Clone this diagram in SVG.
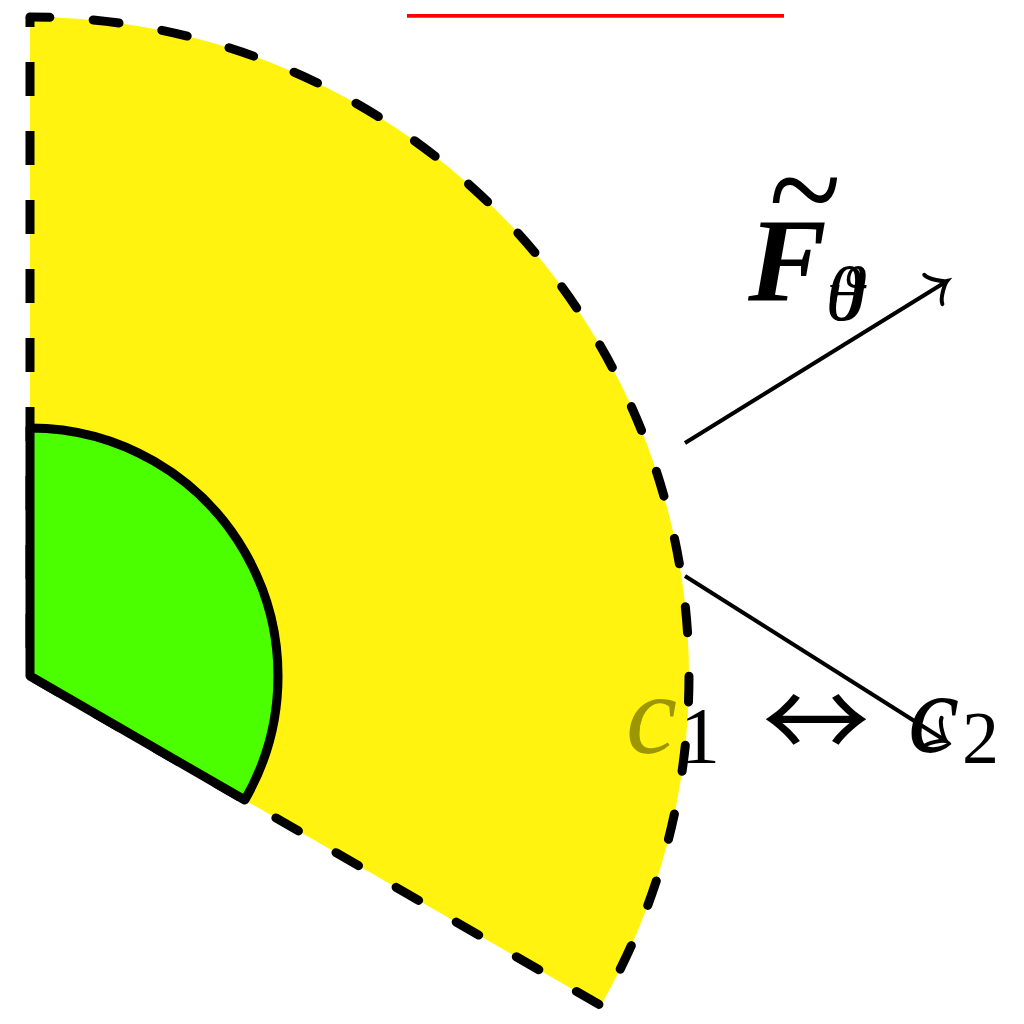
<svg xmlns="http://www.w3.org/2000/svg" width="1024" height="1024" viewBox="0 0 1024 1024">
<style>
.dash-v{fill:none;stroke:#000;stroke-width:9;stroke-dasharray:34 35;stroke-dashoffset:41;stroke-linecap:butt}
.dash-a{fill:none;stroke:#000;stroke-width:9;stroke-dasharray:26 43.4;stroke-dashoffset:6;stroke-linecap:round;stroke-linejoin:round}
.conn{fill:none;stroke:#000;stroke-width:4}
.lbl{font-family:"Liberation Serif","Times New Roman",serif;fill:#000}
.it{font-style:italic}
</style>
<defs>
<marker id="to" markerUnits="userSpaceOnUse" markerWidth="40" markerHeight="40" refX="0" refY="0" orient="auto" overflow="visible" viewBox="-20 -20 40 40">
<path d="M-12.9,17.2 C-11.8,10.75 0,1.1 3.2,0 C0,-1.1 -11.8,-10.75 -12.9,-17.2" fill="none" stroke="#000" stroke-width="4" stroke-linecap="round"/>
</marker>
</defs>
<rect width="1024" height="1024" fill="#fff"/>
<line id="red-line" x1="407" y1="15.8" x2="784" y2="15.8" stroke="#ff0000" stroke-width="3.8"/>
<g id="outer-sector">
<path d="M30,676 L30,17 A659,659 0 0 1 600.7,1005.5 Z" fill="#fff30f"/>
<path class="dash-v" d="M30,676 L30,17"/>
<path class="dash-a" d="M30,17 A659,659 0 0 1 600.7,1005.5 L30,676"/>
</g>
<g id="inner-sector">
<path d="M30,676 L30,428 A248,248 0 0 1 244.8,800 Z" fill="#4cff00" stroke="#000" stroke-width="9" stroke-linejoin="round"/>
</g>
<g id="connectors">
<line class="conn" x1="685" y1="443" x2="944.3" y2="282.7" marker-end="url(#to)"/>
<line class="conn" x1="685" y1="576" x2="943.3" y2="739.3" marker-end="url(#to)"/>
</g>
<g id="label-F">
<text class="lbl" x="769" y="240" font-size="150" textLength="72" lengthAdjust="spacingAndGlyphs">~</text>
<text class="lbl it" x="748" y="300" font-size="118" font-weight="bold">F</text>
<text class="lbl it" x="826" y="320" font-size="76">θ</text>
<text class="lbl it" x="826" y="320" font-size="76">ϑ</text>
</g>
<g id="label-c">
<text class="lbl it" x="626" y="753" font-size="115" style="fill:#9c9600">c</text>
<text class="lbl" x="680" y="763" font-size="80">1</text>
<text x="762" y="760" font-size="108" font-family="'Noto Sans CJK JP','Noto Sans CJK SC',sans-serif">↔</text>
<text class="lbl it" x="908" y="752" font-size="115">c</text>
<text class="lbl" x="962" y="763" font-size="74">2</text>
</g>
</svg>
